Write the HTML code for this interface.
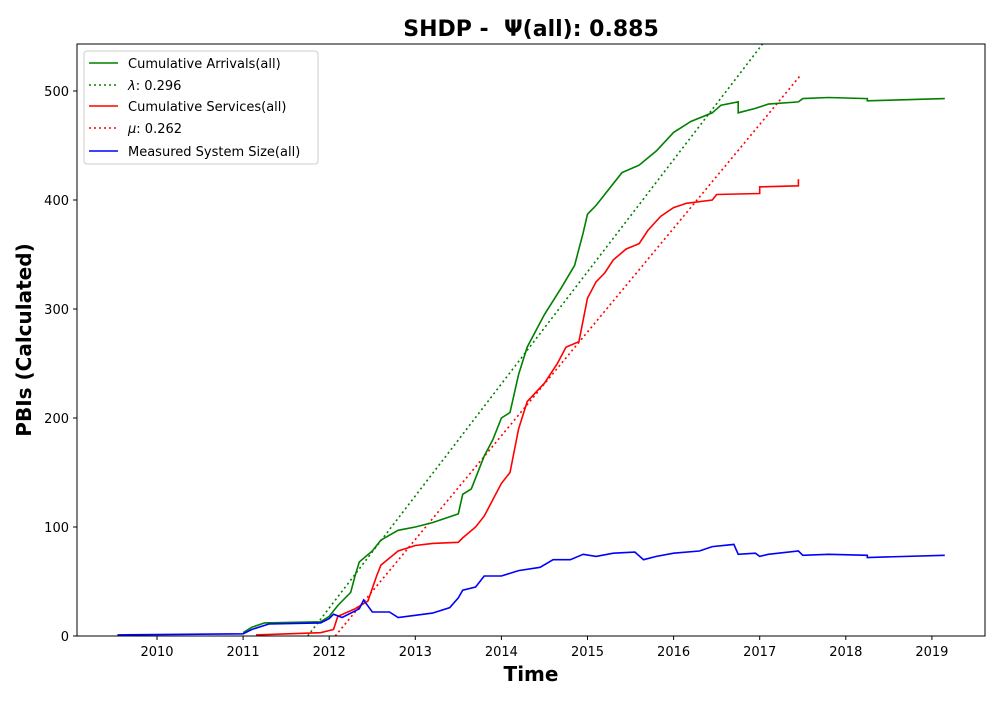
<!DOCTYPE html>
<html><head><meta charset="utf-8"><style>
body{margin:0;background:#fff;}
svg text{font-family:"DejaVu Sans","Liberation Sans",sans-serif;}
</style></head><body>
<svg id="chart" width="1000" height="700" xmlns="http://www.w3.org/2000/svg">
<rect width="1000" height="700" fill="#fff"/>
<text x="531" y="36" text-anchor="middle" font-size="22" font-weight="bold">SHDP - &#160;Ψ(all): 0.885</text>
<text x="531" y="681" text-anchor="middle" font-size="20" font-weight="bold">Time</text>
<text transform="translate(31,340) rotate(-90)" text-anchor="middle" font-size="20" font-weight="bold">PBIs (Calculated)</text>
<g id="ticks"></g>
<g id="series" clip-path="url(#clip)"></g>
<clipPath id="clip"><rect x="77" y="44" width="908" height="592"/></clipPath>
<rect x="77" y="44" width="908" height="592" fill="none" stroke="#000" stroke-width="1"/>
<g>
<rect x="84" y="51" width="234" height="113" rx="3" fill="#fff" fill-opacity="0.8" stroke="#ccc"/>
<g><line x1="89" y1="63" x2="118" y2="63" stroke="green" stroke-width="1.6"/><text x="128" y="68" font-size="13">Cumulative Arrivals(all)</text></g>
<g><line x1="89" y1="85" x2="118" y2="85" stroke="green" stroke-width="1.6" stroke-dasharray="2,3"/><text x="128" y="90" font-size="13"><tspan font-style="italic">λ</tspan>: 0.296</text></g>
<g><line x1="89" y1="106" x2="118" y2="106" stroke="red" stroke-width="1.6"/><text x="128" y="111" font-size="13">Cumulative Services(all)</text></g>
<g><line x1="89" y1="128" x2="118" y2="128" stroke="red" stroke-width="1.6" stroke-dasharray="2,3"/><text x="128" y="133" font-size="13"><tspan font-style="italic">μ</tspan>: 0.262</text></g>
<g><line x1="89" y1="151" x2="118" y2="151" stroke="blue" stroke-width="1.6"/><text x="128" y="156" font-size="13">Measured System Size(all)</text></g>
</g>
</svg>
<script>
const xTicks=[2010,2011,2012,2013,2014,2015,2016,2017,2018,2019];
const yTicks=[0,100,200,300,400,500];
const arrivals=[[2011.0,3],[2011.1,8],[2011.25,12],[2011.9,13],[2012.0,18],[2012.1,28],[2012.25,40],[2012.3,55],[2012.35,68],[2012.5,78],[2012.6,88],[2012.8,97],[2013.0,100],[2013.2,104],[2013.5,112],[2013.55,130],[2013.65,135],[2013.8,165],[2013.9,180],[2014.0,200],[2014.1,205],[2014.2,240],[2014.3,265],[2014.5,295],[2014.7,320],[2014.85,340],[2014.95,370],[2015.0,387],[2015.1,395],[2015.2,405],[2015.4,425],[2015.6,432],[2015.8,445],[2016.0,462],[2016.2,472],[2016.45,480],[2016.55,487],[2016.75,490],[2016.75,480],[2016.95,484],[2017.1,488],[2017.45,490],[2017.5,493],[2017.8,494],[2018.25,493],[2018.25,491],[2019.15,493]];
const services=[[2011.15,1],[2011.9,3],[2012.05,6],[2012.1,18],[2012.3,25],[2012.45,32],[2012.55,55],[2012.6,65],[2012.8,78],[2013.0,83],[2013.2,85],[2013.5,86],[2013.55,90],[2013.7,100],[2013.8,110],[2013.9,125],[2014.0,140],[2014.1,150],[2014.2,190],[2014.3,215],[2014.5,232],[2014.65,250],[2014.75,265],[2014.9,270],[2015.0,310],[2015.1,325],[2015.2,333],[2015.3,345],[2015.45,355],[2015.6,360],[2015.7,372],[2015.85,385],[2016.0,393],[2016.15,397],[2016.45,400],[2016.5,405],[2017.0,406],[2017.0,412],[2017.45,413],[2017.45,419]];
const systemSize=[[2009.54,1],[2011.0,2],[2011.1,6],[2011.3,11],[2011.9,12],[2012.0,16],[2012.05,20],[2012.15,17],[2012.35,25],[2012.4,33],[2012.5,22],[2012.7,22],[2012.8,17],[2013.0,19],[2013.2,21],[2013.4,26],[2013.5,35],[2013.55,42],[2013.7,45],[2013.8,55],[2014.0,55],[2014.2,60],[2014.45,63],[2014.6,70],[2014.8,70],[2014.95,75],[2015.1,73],[2015.3,76],[2015.55,77],[2015.65,70],[2015.8,73],[2016.0,76],[2016.3,78],[2016.45,82],[2016.7,84],[2016.75,75],[2016.95,76],[2017.0,73],[2017.1,75],[2017.45,78],[2017.5,74],[2017.8,75],[2018.25,74],[2018.25,72],[2019.15,74]];
const lambdaLine=[[2011.75,0],[2017.1,550]];
const muLine=[[2012.07,0],[2017.47,514]];
const NS='http://www.w3.org/2000/svg';
function sx(v){return 157+(v-2010)*86.1;}
function sy(v){return 636-v*1.09;}
const tk=document.getElementById('ticks');
xTicks.forEach(t=>{
 const l=document.createElementNS(NS,'line');l.setAttribute('x1',sx(t));l.setAttribute('x2',sx(t));l.setAttribute('y1',636);l.setAttribute('y2',640);l.setAttribute('stroke','#000');
 
 
 tk.appendChild(l);
 const tx=document.createElementNS(NS,'text');tx.setAttribute('x',sx(t));tx.setAttribute('y',656);tx.setAttribute('text-anchor','middle');tx.setAttribute('font-size','13');tx.textContent=t;
 
 
 tk.appendChild(tx);
});
yTicks.forEach(t=>{
 const l=document.createElementNS(NS,'line');l.setAttribute('x1',73);l.setAttribute('x2',77);l.setAttribute('y1',sy(t));l.setAttribute('y2',sy(t));l.setAttribute('stroke','#000');
 
 
 tk.appendChild(l);
 const tx=document.createElementNS(NS,'text');tx.setAttribute('x',69);tx.setAttribute('y',sy(t)+5);tx.setAttribute('text-anchor','end');tx.setAttribute('font-size','13');tx.textContent=t;
 
 
 tk.appendChild(tx);
});
const sg=document.getElementById('series');
function draw(pts,color,dash,name){
 const p=document.createElementNS(NS,'polyline');
 p.setAttribute('points',pts.map(d=>sx(d[0]).toFixed(1)+','+sy(d[1]).toFixed(1)).join(' '));
 p.setAttribute('fill','none');p.setAttribute('stroke',color);p.setAttribute('stroke-width','1.6');
 if(dash)p.setAttribute('stroke-dasharray','2,3');
 
 
 sg.appendChild(p);
}
draw(lambdaLine,'green',true,'lambda-line');
draw(muLine,'red',true,'mu-line');
draw(arrivals,'green',false,'arrivals-line');
draw(services,'red',false,'services-line');
draw(systemSize,'blue',false,'system-size-line');
</script>
</body></html>
